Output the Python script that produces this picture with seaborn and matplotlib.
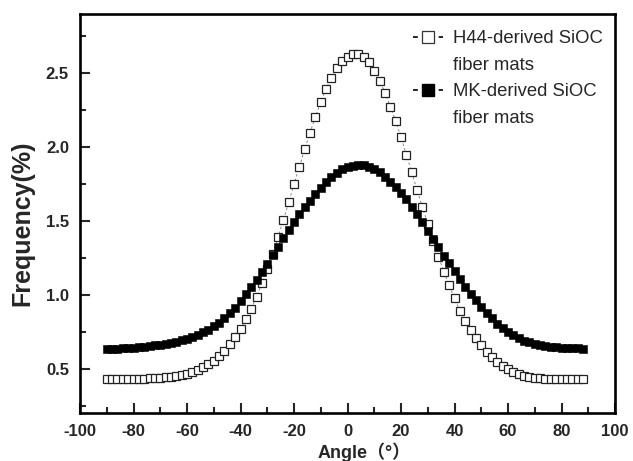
import numpy as np
import pandas as pd
import matplotlib
matplotlib.use("Agg")
import matplotlib.pyplot as plt
from matplotlib.lines import Line2D
from matplotlib.ticker import MultipleLocator
import seaborn as sns

# Angle grid (deg), 2 degree steps from -90 to 88.
angle = list(range(-90, 90, 2))

# H44-derived SiOC fiber mats.
h44 = [
    0.430, 0.430, 0.430, 0.430, 0.431, 0.431, 0.432, 0.433, 0.435, 0.437,
    0.439, 0.442, 0.446, 0.452, 0.459, 0.467, 0.479, 0.492, 0.509, 0.530,
    0.555, 0.586, 0.622, 0.664, 0.713, 0.770, 0.834, 0.907, 0.987, 1.077,
    1.174, 1.278, 1.389, 1.505, 1.625, 1.748, 1.865, 1.985, 2.098, 2.205,
    2.305, 2.395, 2.470, 2.535, 2.582, 2.612, 2.627, 2.630, 2.612, 2.573,
    2.515, 2.450, 2.368, 2.274, 2.177, 2.065, 1.948, 1.830, 1.709, 1.593,
    1.480, 1.367, 1.259, 1.157, 1.063, 0.977, 0.892, 0.824, 0.763, 0.707,
    0.660, 0.615, 0.576, 0.547, 0.520, 0.498, 0.480, 0.464, 0.453, 0.446,
    0.440, 0.436, 0.433, 0.431, 0.430, 0.429, 0.428, 0.428, 0.427, 0.427,
]

# MK-derived SiOC fiber mats.
mk = [
    0.633, 0.634, 0.635, 0.637, 0.639, 0.642, 0.645, 0.649, 0.653, 0.658,
    0.663, 0.669, 0.675, 0.683, 0.692, 0.703, 0.715, 0.729, 0.745, 0.764,
    0.786, 0.812, 0.841, 0.874, 0.910, 0.960, 1.006, 1.054, 1.103, 1.155,
    1.210, 1.268, 1.326, 1.383, 1.440, 1.495, 1.548, 1.592, 1.635, 1.680,
    1.720, 1.760, 1.795, 1.825, 1.848, 1.864, 1.874, 1.878, 1.876, 1.866,
    1.850, 1.830, 1.800, 1.765, 1.727, 1.687, 1.645, 1.596, 1.545, 1.490,
    1.435, 1.380, 1.322, 1.265, 1.212, 1.160, 1.110, 1.055, 1.008, 0.962,
    0.918, 0.878, 0.840, 0.805, 0.775, 0.748, 0.725, 0.706, 0.690, 0.679,
    0.668, 0.661, 0.654, 0.649, 0.645, 0.642, 0.640, 0.638, 0.637, 0.636,
]

labels = ["H44-derived SiOC", "MK-derived SiOC"]

df = pd.DataFrame({"Angle": angle, "H44": h44, "MK": mk})

sns.set_style("ticks")
plt.rcParams["font.family"] = ["Liberation Sans", "Noto Sans CJK SC"]
plt.rcParams["font.weight"] = "bold"
plt.rcParams["axes.unicode_minus"] = False

fig = plt.figure(figsize=(6.33, 4.61), dpi=100)
ax = fig.add_axes([0.1264, 0.1041, 0.8452, 0.8655])

# H44: open squares, thin dashed connector
sns.lineplot(data=df, x="Angle", y="H44", ax=ax, color="#777777", lw=0.6,
             linestyle=(0, (3, 3)), marker="s", markersize=5.6,
             markerfacecolor="white", markeredgecolor="#222222",
             markeredgewidth=0.9)
# MK: filled squares
sns.lineplot(data=df, x="Angle", y="MK", ax=ax, color="black", lw=0.6,
             linestyle=(0, (3, 3)), marker="s", markersize=5.8,
             markerfacecolor="black", markeredgecolor="black",
             markeredgewidth=0.4)

ax.set_xlim(-100, 100)
ax.set_ylim(0.2, 2.9)
ax.xaxis.set_major_locator(MultipleLocator(20))
ax.xaxis.set_minor_locator(MultipleLocator(10))
ax.yaxis.set_major_locator(MultipleLocator(0.5))
ax.yaxis.set_minor_locator(MultipleLocator(0.25))
ax.tick_params(which="both", direction="in", width=1.5, labelsize=12,
               top=False, right=False)
ax.tick_params(which="major", length=7, pad=8)
ax.tick_params(which="minor", length=4.5)
for s in ax.spines.values():
    s.set_linewidth(1.9)
    s.set_color("black")

ax.set_xlabel("Angle（°）", fontsize=13, fontweight="bold")
ax.set_ylabel("Frequency(%)", fontsize=18, fontweight="bold")
ax.xaxis.set_label_coords(0.531, -0.073)
ax.yaxis.set_label_coords(-0.086, 0.475)

# legend: marker with short dash on each side, second text line without a handle
dash = (0, (2.9, 12.5, 2.9, 100))
h1 = Line2D([], [], color="black", lw=1.2, ls=dash, marker="s", ms=8.5,
            mfc="white", mec="#333333", mew=0.9)
h2 = Line2D([], [], color="black", lw=1.2, ls=dash, marker="s", ms=8.5,
            mfc="black", mec="black")
blank = Line2D([], [], color="none")
ax.legend([h1, blank, h2, blank],
          [labels[0], "fiber mats", labels[1], "fiber mats"],
          loc="upper left", bbox_to_anchor=(0.6224, 0.960), frameon=False,
          prop={"weight": "normal", "size": 13.3}, handlelength=1.62,
          handletextpad=0.54, labelspacing=0.52, borderpad=0,
          borderaxespad=0)

fig.savefig("out.png", dpi=100)
